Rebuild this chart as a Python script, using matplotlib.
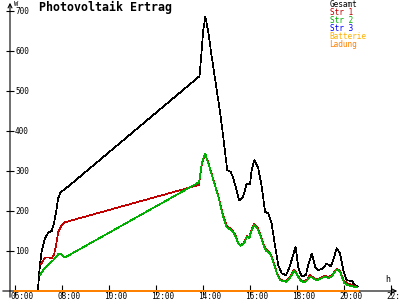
import matplotlib
matplotlib.use("Agg")
import matplotlib.pyplot as plt
import matplotlib.transforms as mtransforms

# Data (hours of day, watts)
t_gesamt = [6.97, 7.06, 7.14, 7.28, 7.42, 7.56, 7.66, 7.75, 7.84, 7.92,
            8.06, 8.34, 13.85, 13.88, 13.92, 14.01, 14.10, 14.23, 14.37, 14.51,
            14.65, 14.75, 14.86, 14.98, 15.03, 15.18, 15.29, 15.43, 15.54, 15.71,
            15.86, 16.00, 16.07, 16.18, 16.35, 16.50, 16.64, 16.78, 16.92, 17.06,
            17.20, 17.35, 17.53, 17.67, 17.94, 18.06, 18.20, 18.38, 18.48, 18.63,
            18.77, 18.91, 19.12, 19.26, 19.43, 19.54, 19.69, 19.83, 19.97, 20.11,
            20.33, 20.47, 20.58]
gesamt = [0, 65, 102, 132, 146, 150, 170, 198, 232, 245,
          252, 265, 537, 557, 585, 652, 686, 645, 586, 532,
          477, 436, 386, 327, 302, 298, 282, 252, 226, 236,
          269, 267, 302, 327, 307, 261, 198, 194, 169, 115,
          65, 44, 40, 57, 111, 57, 36, 40, 65, 94,
          61, 52, 57, 69, 61, 77, 107, 94, 52, 27,
          25, 15, 11]

t_str1 = [7.10, 7.28, 7.42, 7.56, 7.66, 7.75, 7.84, 7.99, 8.13, 13.82,
          13.87, 13.95, 14.09, 14.23, 14.44, 14.65, 14.86, 15.01, 15.22, 15.36,
          15.50, 15.60, 15.75, 15.86, 15.97, 16.07, 16.18, 16.31, 16.43, 16.57,
          16.68, 16.85, 16.99, 17.14, 17.28, 17.53, 17.70, 17.87, 17.99, 18.13,
          18.30, 18.44, 18.55, 18.69, 18.84, 19.05, 19.19, 19.33, 19.48, 19.69,
          19.83, 20.00, 20.12, 20.33, 20.54]
str1 = [67, 84, 84, 82, 90, 115, 148, 165, 172, 265,
        282, 318, 343, 320, 279, 238, 189, 162, 154, 142,
        120, 114, 121, 137, 134, 154, 168, 160, 143, 118,
        104, 96, 75, 46, 28, 24, 34, 54, 44, 28,
        23, 29, 40, 34, 29, 34, 38, 35, 39, 55,
        50, 25, 20, 15, 10]

t_str2 = [7.06, 7.20, 7.42, 7.63, 7.84, 7.95, 8.06, 8.13, 13.83, 13.87,
          13.95, 14.09, 14.23, 14.44, 14.65, 14.86, 15.01, 15.22, 15.36, 15.50,
          15.60, 15.75, 15.86, 15.97, 16.07, 16.18, 16.31, 16.43, 16.57, 16.68,
          16.85, 16.99, 17.14, 17.28, 17.53, 17.70, 17.87, 17.99, 18.13, 18.30,
          18.44, 18.55, 18.69, 18.84, 19.05, 19.19, 19.33, 19.48, 19.69, 19.83,
          20.00, 20.12, 20.33, 20.54]
str2 = [40, 52, 65, 77, 92, 94, 86, 84, 272, 286,
        319, 344, 319, 277, 236, 186, 159, 152, 140, 119,
        113, 119, 136, 132, 152, 165, 157, 140, 115, 101,
        94, 73, 44, 27, 23, 32, 51, 42, 27, 21,
        27, 36, 32, 27, 32, 36, 32, 37, 54, 48,
        21, 15, 12, 9]

t_akku = [6.0, 20.58]
batterie = [0, 0]
ladung = [0, 0]

x_ticks = [6, 8, 10, 12, 14, 16, 18, 20, 22]
x_labels = ["06:00", "08:00", "10:00", "12:00", "14:00", "16:00", "18:00", "20:00", "22:00"]
y_ticks = [100, 200, 300, 400, 500, 600, 700]

legend_names = ["Gesamt", "Str 1", "Str 2", "Str 3", "Batterie", "Ladung"]
legend_colors = ["#000000", "#c00000", "#00b000", "#0000ff", "#ffb000", "#ff8000"]

mono = "DejaVu Sans Mono"
W, H = 400, 300

fig = plt.figure(figsize=(4, 3), dpi=100)
fig.patch.set_facecolor("white")
ax = fig.add_axes([15 / W, 9 / H, 376 / W, 280 / H])
ax.set_xlim(6, 22)
ax.set_ylim(0, 700)
ax.axis("off")

# axis lines with arrows (figure coords)
ax.annotate("", xy=(1.0, 9 / H), xytext=(0, 9 / H), xycoords="figure fraction",
            arrowprops=dict(arrowstyle="->", lw=0.8, color="black", mutation_scale=7),
            zorder=1)
ax.annotate("", xy=(10 / W, 1.0), xytext=(10 / W, 0), xycoords="figure fraction",
            arrowprops=dict(arrowstyle="->", lw=0.8, color="black", mutation_scale=7),
            zorder=1)

# ticks
ty = mtransforms.blended_transform_factory(fig.transFigure, ax.transData)
tx = mtransforms.blended_transform_factory(ax.transData, fig.transFigure)
ax.plot([10 / W] * len(y_ticks), y_ticks, ls="none", marker="_", ms=6, mew=0.8,
        color="black", transform=ty, clip_on=False)
ax.plot(x_ticks, [10.5 / H] * len(x_ticks), ls="none", marker="|", ms=7, mew=0.8,
        color="black", transform=tx, clip_on=False)
for v in y_ticks:
    ax.text(15 / W, v, str(v), transform=ty, ha="left", va="center",
            fontsize=5.6, family=mono)
for h, lab in zip(x_ticks, x_labels):
    ax.text(h - 4.5 / 23.5, 3.5 / H, lab, transform=tx, ha="left", va="center",
            fontsize=5.6, family=mono)

# series
kw = dict(lw=0.5, clip_on=False, antialiased=False)
ax.plot(t_gesamt, gesamt, color=legend_colors[0], **kw)
ax.plot(t_str1, str1, color=legend_colors[1], **kw)
ax.plot(t_str2, str2, color=legend_colors[2], **kw)
ax.plot(t_akku, batterie, color=legend_colors[4], lw=1.4, clip_on=False, zorder=4)
ax.plot(t_akku, ladung, color=legend_colors[5], lw=1.4, clip_on=False, zorder=4)

# texts
fig.text(39 / W, 1 - 7 / H, "Photovoltaik Ertrag", fontsize=8.4, weight="bold",
         family=mono, ha="left", va="center")
fig.text(14 / W, 1 - 4 / H, "W", fontsize=5, family=mono, ha="left", va="center")
fig.text(385 / W, 1 - 280 / H, "h", fontsize=6, family=mono, ha="left", va="center")
for i, (name, col) in enumerate(zip(legend_names, legend_colors)):
    fig.text(329.5 / W, 1 - (4.5 + 8 * i) / H, name, color=col, fontsize=5.6,
             family=mono, ha="left", va="center")

fig.savefig("out.png", dpi=100)
